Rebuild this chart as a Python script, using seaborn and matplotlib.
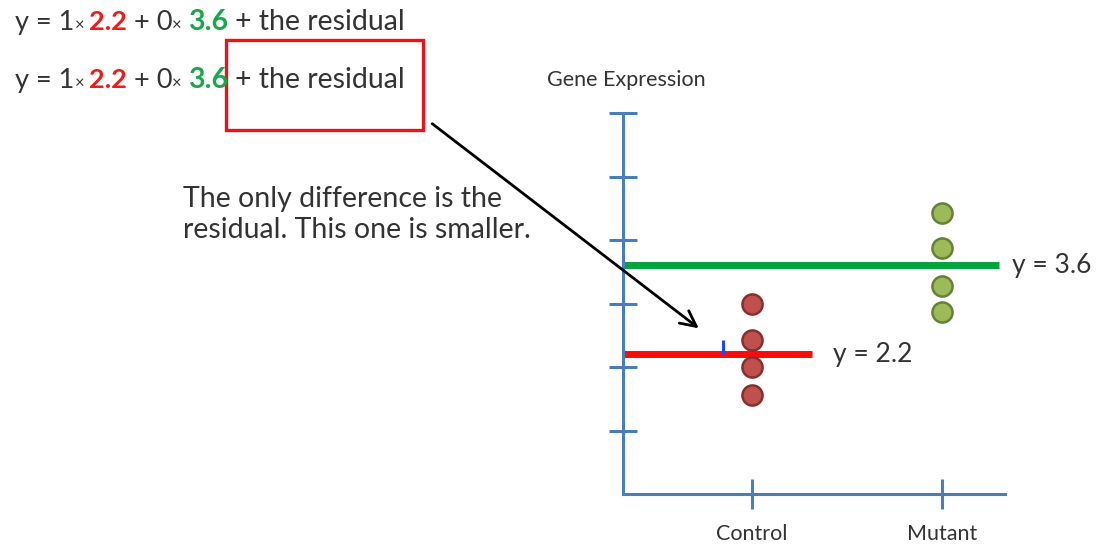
import matplotlib
matplotlib.use("Agg")
import matplotlib.pyplot as plt
import pandas as pd
import seaborn as sns
from matplotlib.patches import Rectangle

# data
groups = ["Control", "Mutant"]
control_values = [2.99, 2.43, 2.00, 1.56]
mutant_values = [4.42, 3.87, 3.28, 2.86]
group_means = [2.2, 3.6]
mean_line_ends = [0.32, 1.30]
residual_x = -0.15
residual_point = 2.43

W, H = 1111, 558
TEXT = "#333333"
RED = "#f01b1b"
GREEN = "#17a84a"
AXIS_BLUE = "#4a7ebb"

sns.set_theme(style="white")
plt.rcParams["font.family"] = ["Lato", "DejaVu Sans"]

df = pd.DataFrame({
    "group": ["Control"] * len(control_values) + ["Mutant"] * len(mutant_values),
    "value": control_values + mutant_values,
})
df["pos"] = df["group"].map({g: i for i, g in enumerate(groups)})

fig = plt.figure(figsize=(W / 100, H / 100), dpi=100)
ax = fig.add_axes([623 / W, 64 / H, (1005 - 623) / W, (494 - 113) / H])

# mean lines
ax.hlines(group_means[1], -0.677, mean_line_ends[1], color="#00a43c", lw=5, zorder=2)
ax.hlines(group_means[0], -0.677, mean_line_ends[0], color="#ff0a0a", lw=5, zorder=2)
ax.vlines(residual_x, group_means[0], residual_point, color="#1f44ff", lw=2.2, zorder=3)

sns.scatterplot(data=df[df.group == "Control"], x="pos", y="value", color="#c0504d",
                edgecolor="#86302d", linewidth=1.8, s=210, ax=ax, zorder=4)
sns.scatterplot(data=df[df.group == "Mutant"], x="pos", y="value", color="#9bbb59",
                edgecolor="#66803a", linewidth=1.8, s=210, ax=ax, zorder=4)

ax.set_xlim(-0.677, 1.333)
ax.set_ylim(0, 6)
ax.set_xlabel("")
ax.set_ylabel("")
sns.despine(ax=ax)
for side in ["left", "bottom"]:
    ax.spines[side].set_color(AXIS_BLUE)
    ax.spines[side].set_linewidth(2.2)
ax.set_yticks([1, 2, 3, 4, 5, 6])
ax.set_yticklabels([])
ax.set_xticks(range(len(groups)))
ax.set_xticklabels(groups, fontsize=15.5, color=TEXT)
ax.tick_params(axis="y", direction="inout", length=20, width=2.2, color=AXIS_BLUE, left=True)
ax.tick_params(axis="x", direction="inout", length=21, width=2.2, color=AXIS_BLUE, bottom=True, pad=11)

ax.text(0.428, group_means[0], "y = 2.2", fontsize=19, color=TEXT, va="center", ha="left")
ax.text(1.370, group_means[1], "y = 3.6", fontsize=19, color=TEXT, va="center", ha="left")

fig.text(626 / W, 1 - 80 / H, "Gene Expression", fontsize=15.5, color=TEXT, ha="center", va="center")

# equations along the top
def eq_line(baseline):
    y = 1 - baseline / H
    parts = [
        (15, "y = 1", TEXT, "normal", 19.5),
        (75, "×", TEXT, "normal", 12),
        (89, "2.2", RED, "bold", 19.5),
        (134, "+ 0", TEXT, "normal", 19.5),
        (172, "×", TEXT, "normal", 12),
        (188, "3.6", GREEN, "bold", 20.5),
        (235, "+ the residual", TEXT, "normal", 20.5),
    ]
    for x, s, c, w, fs in parts:
        fig.text(x / W, y, s, color=c, fontweight=w, fontsize=fs, ha="left", va="baseline")

eq_line(30)
eq_line(88)

fig.add_artist(Rectangle((226 / W, 1 - 130 / H), (423 - 226) / W, (130 - 40) / H,
                         transform=fig.transFigure, fill=False, edgecolor="#e8141c", lw=2.4))

fig.text(183 / W, 1 - 207 / H, "The only difference is the", fontsize=20.5, color=TEXT, ha="left", va="baseline")
fig.text(183 / W, 1 - 238 / H, "residual. This one is smaller.", fontsize=20.5, color=TEXT, ha="left", va="baseline")

ax.annotate("", xy=(701, H - 330), xytext=(430, H - 122), xycoords="figure pixels",
            textcoords="figure pixels", annotation_clip=False,
            arrowprops=dict(arrowstyle="->", lw=2.0, color="black", mutation_scale=28))

fig.savefig("out.png", dpi=100)
